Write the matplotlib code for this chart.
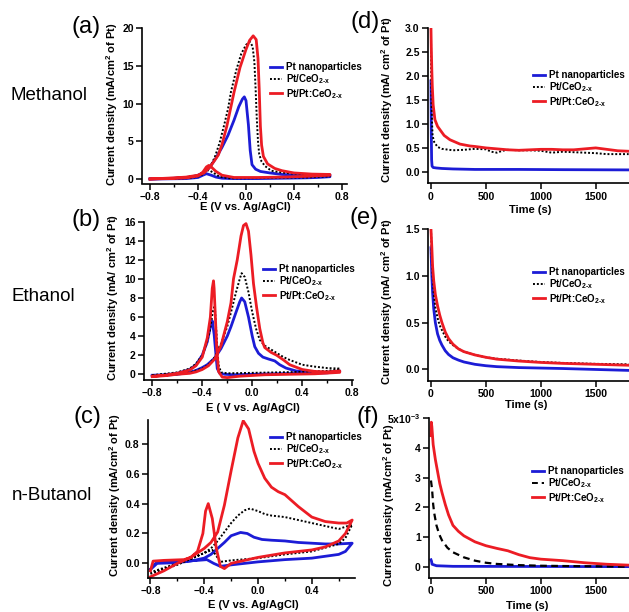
import numpy as np
import matplotlib
matplotlib.use('Agg')
import matplotlib.pyplot as plt
from matplotlib.ticker import MultipleLocator
from matplotlib.lines import Line2D

plt.rcParams['font.family'] = ['Liberation Sans', 'DejaVu Sans']
plt.rcParams['mathtext.fontset'] = 'custom'
plt.rcParams['mathtext.rm'] = 'Liberation Sans:bold'
plt.rcParams['mathtext.bf'] = 'Liberation Sans:bold'
plt.rcParams['mathtext.it'] = 'Liberation Sans:bold'
plt.rcParams['mathtext.default'] = 'rm'

BLUE = '#1c1cd6'
RED = '#ec1c24'
labels = ['Pt nanoparticles', r'Pt/CeO$_{2\text{-}x}$', r'Pt/Pt:CeO$_{2\text{-}x}$']

# ---- (a) methanol CV  (forward scan then reverse scan)
a_pt_E = [-0.8, -0.7, -0.6, -0.5, -0.45, -0.4, -0.35, -0.32, -0.3, -0.25,
          -0.2, -0.15, -0.1, -0.06, -0.03, -0.014, 0.0, 0.02, 0.035, 0.05,
          0.08, 0.12, 0.2, 0.3, 0.45, 0.6, 0.7,
          0.7, 0.6, 0.5, 0.3, 0.1, -0.1, -0.2, -0.25, -0.29, -0.33,
          -0.36, -0.4, -0.5, -0.65, -0.8]
a_pt_j = [0.0, 0.05, 0.1, 0.2, 0.3, 0.5, 0.9, 1.3, 1.6, 2.8,
          4.2, 5.8, 7.8, 9.6, 10.6, 10.9, 10.4, 7.2, 3.8, 1.9,
          1.3, 1.0, 0.8, 0.6, 0.5, 0.5, 0.55,
          0.3, 0.2, 0.15, 0.1, 0.05, 0.05, 0.1, 0.25, 0.5, 0.7,
          0.5, 0.2, 0.05, 0.02, 0.0]
a_ce_E = [-0.8, -0.6, -0.5, -0.4, -0.35, -0.3, -0.26, -0.22, -0.18, -0.15,
          -0.125, -0.08, -0.04, 0.0, 0.033, 0.055, 0.07, 0.08, 0.09, 0.1,
          0.11, 0.13, 0.16, 0.21, 0.3, 0.4, 0.55, 0.7,
          0.7, 0.5, 0.2, 0.0, -0.15, -0.22, -0.27, -0.31, -0.34, -0.38,
          -0.45, -0.6, -0.8]
a_ce_j = [0.0, 0.1, 0.2, 0.5, 0.9, 1.6, 2.9, 4.8, 7.3, 9.3,
          11.6, 14.5, 16.6, 17.8, 18.2, 17.6, 15.5, 12.0, 8.0, 5.0,
          3.3, 2.3, 1.7, 1.1, 0.85, 0.7, 0.55, 0.5,
          0.35, 0.2, 0.15, 0.1, 0.1, 0.3, 0.8, 1.2, 0.9, 0.4,
          0.15, 0.05, 0.0]
a_ptce_E = [-0.8, -0.6, -0.5, -0.4, -0.35, -0.3, -0.26, -0.23, -0.2, -0.16,
            -0.1, -0.05, 0.0, 0.03, 0.06, 0.085, 0.1, 0.11, 0.12, 0.13,
            0.145, 0.18, 0.24, 0.3, 0.4, 0.55, 0.7,
            0.7, 0.5, 0.3, 0.1, -0.1, -0.2, -0.25, -0.29, -0.31, -0.33,
            -0.36, -0.4, -0.5, -0.65, -0.8]
a_ptce_j = [0.0, 0.15, 0.25, 0.5, 0.8, 1.6, 2.5, 3.2, 4.6, 7.0,
            11.5, 14.8, 17.2, 18.4, 19.0, 18.5, 16.0, 12.0, 7.0, 4.5,
            3.0, 2.0, 1.4, 1.1, 0.8, 0.65, 0.6,
            0.5, 0.35, 0.25, 0.2, 0.2, 0.5, 1.0, 1.6, 1.8, 1.6,
            0.9, 0.4, 0.15, 0.05, 0.0]

# ---- (b) ethanol CV
b_pt_E = [-0.8, -0.7, -0.6, -0.5, -0.45, -0.4, -0.36, -0.3, -0.25, -0.2,
          -0.17, -0.13, -0.1, -0.085, -0.06, -0.03, 0.0, 0.02, 0.05, 0.085,
          0.13, 0.18, 0.22, 0.27, 0.35, 0.5, 0.6, 0.7,
          0.7, 0.6, 0.4, 0.2, 0.0, -0.15, -0.22, -0.26, -0.28, -0.29,
          -0.305, -0.32, -0.335, -0.36, -0.4, -0.45, -0.5, -0.6, -0.7, -0.8]
b_pt_j = [-0.2, -0.1, 0.0, 0.2, 0.4, 0.7, 1.0, 1.7, 2.7, 4.0,
          5.0, 6.5, 7.6, 8.0, 7.6, 6.0, 4.0, 2.9, 2.2, 1.8,
          1.6, 1.4, 1.0, 0.65, 0.35, 0.2, 0.2, 0.35,
          0.3, 0.15, 0.1, 0.05, 0.0, -0.05, 0.0, 0.1, 0.6, 2.0,
          4.2, 5.6, 5.0, 3.4, 2.0, 1.0, 0.5, 0.1, -0.05, -0.1]
b_ce_E = [-0.8, -0.6, -0.5, -0.4, -0.35, -0.3, -0.25, -0.2, -0.17, -0.13,
          -0.1, -0.085, -0.06, -0.03, 0.0, 0.03, 0.06, 0.1, 0.15, 0.2,
          0.25, 0.3, 0.4, 0.5, 0.6, 0.7,
          0.7, 0.6, 0.4, 0.2, 0.0, -0.2, -0.25, -0.27, -0.285, -0.3,
          -0.315, -0.34, -0.37, -0.4, -0.45, -0.5, -0.6, -0.8]
b_ce_j = [-0.1, 0.0, 0.2, 0.6, 1.0, 1.8, 3.2, 5.0, 6.5, 8.6,
          10.0, 10.6, 10.2, 8.6, 6.5, 4.8, 3.6, 3.0, 2.6, 2.2,
          1.8, 1.5, 1.0, 0.8, 0.65, 0.6,
          0.5, 0.35, 0.25, 0.2, 0.15, 0.1, 0.2, 1.0, 4.0, 7.2,
          6.6, 4.5, 3.0, 2.0, 1.1, 0.6, 0.2, -0.1]
b_ptce_E = [-0.8, -0.7, -0.6, -0.5, -0.45, -0.4, -0.35, -0.3, -0.25, -0.2,
            -0.17, -0.15, -0.12, -0.09, -0.07, -0.05, -0.03, -0.01, 0.01, 0.035,
            0.06, 0.085, 0.1, 0.15, 0.195, 0.25, 0.3, 0.4, 0.5, 0.6, 0.7,
            0.7, 0.5, 0.3, 0.1, -0.1, -0.2, -0.24, -0.27, -0.285, -0.295,
            -0.305, -0.31, -0.32, -0.335, -0.36, -0.4, -0.45, -0.5, -0.6, -0.7, -0.8]
b_ptce_j = [-0.25, -0.15, 0.0, 0.1, 0.25, 0.5, 0.9, 1.6, 3.0, 5.5,
            7.5, 10.0, 12.0, 14.5, 15.6, 15.8, 15.0, 12.5, 9.5, 7.0,
            4.8, 3.3, 2.8, 2.3, 2.0, 1.5, 1.0, 0.5, 0.3, 0.25, 0.35,
            0.2, 0.05, 0.0, -0.05, -0.2, -0.35, -0.3, 0.3, 3.0, 6.0,
            9.0, 9.8, 9.0, 6.0, 3.8, 1.8, 0.9, 0.45, 0.1, -0.1, -0.2]

# ---- (c) n-butanol CV
c_pt_E = [-0.8, -0.75, -0.6, -0.5, -0.4, -0.35, -0.3, -0.25, -0.2, -0.13,
          -0.08, -0.03, 0.03, 0.1, 0.2, 0.3, 0.4, 0.5, 0.6, 0.7,
          0.7, 0.65, 0.6, 0.4, 0.2, 0.0, -0.2, -0.28, -0.33, -0.38,
          -0.45, -0.6, -0.75, -0.8]
c_pt_j = [-0.04, 0.0, 0.005, 0.015, 0.035, 0.06, 0.1, 0.14, 0.185, 0.207,
          0.2, 0.175, 0.16, 0.155, 0.15, 0.14, 0.135, 0.13, 0.13, 0.135,
          0.135, 0.08, 0.06, 0.035, 0.025, 0.01, -0.01, -0.02, 0.0, 0.025,
          0.02, 0.015, 0.01, -0.04]
c_ce_E = [-0.8, -0.6, -0.5, -0.4, -0.35, -0.3, -0.25, -0.2, -0.15, -0.1,
          -0.06, 0.0, 0.05, 0.1, 0.2, 0.3, 0.4, 0.5, 0.6, 0.7,
          0.7, 0.65, 0.6, 0.4, 0.2, 0.0, -0.2, -0.28, -0.31, -0.34,
          -0.4, -0.5, -0.6, -0.8]
c_ce_j = [-0.07, -0.01, 0.03, 0.07, 0.1, 0.15, 0.21, 0.27, 0.32, 0.355,
          0.367, 0.35, 0.33, 0.32, 0.31, 0.29, 0.27, 0.25, 0.23, 0.26,
          0.26, 0.17, 0.13, 0.08, 0.06, 0.035, 0.02, 0.01, 0.05, 0.09,
          0.07, 0.03, 0.0, -0.06]
c_ptce_E = [-0.8, -0.7, -0.6, -0.5, -0.45, -0.4, -0.35, -0.3, -0.25, -0.2,
            -0.15, -0.11, -0.07, -0.03, 0.0, 0.05, 0.1, 0.15, 0.2, 0.25,
            0.3, 0.4, 0.5, 0.6, 0.66, 0.7,
            0.7, 0.65, 0.6, 0.5, 0.4, 0.2, 0.0, -0.1, -0.2, -0.25,
            -0.28, -0.31, -0.34, -0.37, -0.39, -0.41, -0.45, -0.5, -0.55, -0.7,
            -0.78, -0.8]
c_ptce_j = [-0.09, -0.05, 0.0, 0.04, 0.07, 0.1, 0.14, 0.21, 0.39, 0.62,
            0.84, 0.955, 0.9, 0.75, 0.67, 0.57, 0.51, 0.48, 0.46, 0.42,
            0.38, 0.31, 0.28, 0.27, 0.27, 0.29,
            0.29, 0.2, 0.15, 0.11, 0.09, 0.07, 0.04, 0.02, 0.0, -0.035,
            -0.02, 0.1, 0.3, 0.4, 0.35, 0.2, 0.08, 0.04, 0.025, 0.02,
            0.015, -0.05]

# ---- (d) methanol chronoamperometry
d_pt_t = [0, 3, 6, 10, 20, 50, 100, 200, 400, 800, 1200, 1800]
d_pt_j = [1.9, 0.8, 0.25, 0.12, 0.09, 0.08, 0.07, 0.06, 0.05, 0.05, 0.045, 0.04]
d_ce_t = [0, 2, 5, 10, 15, 30, 60, 100, 200, 300,
          400, 500, 550, 600, 650, 700, 800, 900, 1000, 1100,
          1200, 1300, 1400, 1500, 1600, 1800]
d_ce_j = [3.0, 2.2, 1.5, 1.0, 0.75, 0.62, 0.52, 0.48, 0.45, 0.46,
          0.48, 0.47, 0.42, 0.40, 0.44, 0.46, 0.45, 0.45, 0.44, 0.40,
          0.42, 0.41, 0.40, 0.39, 0.37, 0.37]
d_ptce_t = [0, 3, 8, 12, 20, 36, 60, 82, 120, 173,
            264, 355, 400, 500, 600, 700, 800, 900, 1000, 1100,
            1200, 1300, 1400, 1500, 1600, 1700, 1800]
d_ptce_j = [3.0, 2.6, 2.1, 1.8, 1.4, 1.09, 0.95, 0.88, 0.76, 0.67,
            0.58, 0.54, 0.53, 0.50, 0.48, 0.46, 0.45, 0.46, 0.47, 0.47,
            0.46, 0.46, 0.48, 0.50, 0.47, 0.44, 0.43]

# ---- (e) ethanol chronoamperometry
e_t = [0, 8, 15, 25, 40, 60, 80, 100, 130, 160, 200,
       250, 300, 400, 500, 600, 800, 1000, 1200, 1500, 1800]
e_pt_j = [1.3, 1.0, 0.82, 0.65, 0.5, 0.38, 0.31, 0.26, 0.2, 0.16, 0.125,
          0.1, 0.08, 0.055, 0.04, 0.03, 0.02, 0.015, 0.01, 0.0, -0.01]
e_ce_j = [1.5, 1.2, 1.0, 0.82, 0.66, 0.55, 0.47, 0.42, 0.35, 0.3, 0.26,
          0.22, 0.19, 0.155, 0.13, 0.115, 0.095, 0.08, 0.07, 0.06, 0.055]
e_ptce_j = [1.5, 1.3, 1.1, 0.95, 0.8, 0.68, 0.58, 0.5, 0.4, 0.33, 0.27,
            0.22, 0.19, 0.155, 0.13, 0.11, 0.09, 0.075, 0.065, 0.055, 0.045]

# ---- (f) n-butanol chronoamperometry (x1e-3)
f_pt_t = [0, 5, 10, 50, 200, 1800]
f_pt_j = [0.25, 0.2, 0.1, 0.05, 0.03, 0.02]
f_ce_t = [0, 10, 20, 30, 50, 75, 100, 150, 200, 300,
          400, 500, 600, 800, 1000, 1200, 1500, 1800]
f_ce_j = [2.9, 2.6, 2.1, 1.8, 1.4, 1.1, 0.9, 0.65, 0.5, 0.33,
          0.22, 0.15, 0.11, 0.07, 0.05, 0.04, 0.03, 0.02]
f_ptce_t = [0, 3, 8, 20, 40, 60, 80, 100, 130, 160,
            200, 250, 300, 400, 500, 600, 700, 800, 900, 1000,
            1200, 1400, 1600, 1800]
f_ptce_j = [4.4, 4.85, 4.7, 4.1, 3.6, 3.2, 2.8, 2.5, 2.1, 1.75,
            1.4, 1.2, 1.05, 0.85, 0.72, 0.63, 0.55, 0.42, 0.32, 0.27,
            0.22, 0.15, 0.1, 0.07]

W, H = 629, 612
LW = 2.0
fig = plt.figure(figsize=(W / 100, H / 100), dpi=100)


def px_axes(l, r, t, b):
    ax = fig.add_axes([l / W, 1 - b / H, (r - l) / W, (b - t) / H])
    ax.spines['top'].set_visible(False)
    ax.spines['right'].set_visible(False)
    for s in ['left', 'bottom']:
        ax.spines[s].set_linewidth(1.2)
    ax.tick_params(direction='out', length=4, width=1.1, labelsize=7.5, pad=2)
    ax.tick_params(which='minor', direction='out', length=2.5, width=1)
    return ax


def bold_ticks(ax):
    for lab in ax.get_xticklabels() + ax.get_yticklabels():
        lab.set_fontweight('bold')


def fig_text(x, y, s, **kw):
    fig.text(x / W, 1 - y / H, s, ha='center', va='center', **kw)


def add_legend(ax, x, y, dashed=False):
    ls = (0, (3, 2)) if dashed else (0, (1, 1))
    hs = [Line2D([], [], color=BLUE, lw=LW),
          Line2D([], [], color='k', lw=1.4, ls=ls),
          Line2D([], [], color=RED, lw=LW)]
    leg = ax.legend(hs, labels, loc='upper left', bbox_to_anchor=(x / W, 1 - y / H),
                    bbox_transform=fig.transFigure, frameon=False, borderpad=0,
                    borderaxespad=0, handlelength=1.25, handletextpad=0.35,
                    labelspacing=0.05, prop={'weight': 'bold', 'size': 7})
    return leg


def cv_lines(ax, E1, j1, E2, j2, E3, j3):
    ax.plot(E1, j1, color=BLUE, lw=LW)
    ax.plot(E2, j2, color='k', lw=1.4, ls=(0, (1, 1)))
    ax.plot(E3, j3, color=RED, lw=LW)


ylab_cm = 'Current density (mA/cm$^2$ of Pt)'
ylab_sp = 'Current density (mA/ cm$^2$ of Pt)'
LAB = 8

# (a)
ax = px_axes(142, 347, 28.3, 183.5)
cv_lines(ax, a_pt_E, a_pt_j, a_ce_E, a_ce_j, a_ptce_E, a_ptce_j)
ax.set_xlim(-0.867, 0.842)
ax.set_ylim(-0.6, 20.0)
ax.xaxis.set_major_locator(MultipleLocator(0.4))
ax.xaxis.set_minor_locator(MultipleLocator(0.2))
ax.yaxis.set_major_locator(MultipleLocator(5))
bold_ticks(ax)
add_legend(ax, 270, 62)
fig_text(112, 104, ylab_cm, rotation=90, fontsize=LAB, fontweight='bold')
fig_text(245, 207, 'E (V vs. Ag/AgCl)', fontsize=LAB, fontweight='bold')

# (b)
ax = px_axes(144, 353, 221.7, 380)
cv_lines(ax, b_pt_E, b_pt_j, b_ce_E, b_ce_j, b_ptce_E, b_ptce_j)
ax.set_xlim(-0.866, 0.806)
ax.set_ylim(-0.6, 16.0)
ax.xaxis.set_major_locator(MultipleLocator(0.4))
ax.xaxis.set_minor_locator(MultipleLocator(0.2))
ax.yaxis.set_major_locator(MultipleLocator(2))
bold_ticks(ax)
add_legend(ax, 263, 264)
fig_text(113, 298, ylab_sp, rotation=90, fontsize=LAB, fontweight='bold')
fig_text(253, 408, 'E ( V vs. Ag/AgCl)', fontsize=LAB, fontweight='bold')

# (c)
ax = px_axes(148, 355, 420, 578)
cv_lines(ax, c_pt_E, c_pt_j, c_ce_E, c_ce_j, c_ptce_E, c_ptce_j)
ax.set_xlim(-0.818, 0.721)
ax.set_ylim(-0.098, 0.96)
ax.xaxis.set_major_locator(MultipleLocator(0.4))
ax.xaxis.set_minor_locator(MultipleLocator(0.2))
ax.yaxis.set_major_locator(MultipleLocator(0.2))
bold_ticks(ax)
add_legend(ax, 270, 432)
fig_text(115, 495, ylab_cm, rotation=90, fontsize=LAB, fontweight='bold')
fig_text(253, 605, 'E (V vs. Ag/AgCl)', fontsize=LAB, fontweight='bold')

# (d)
ax = px_axes(428, 629, 28.3, 183.3)
ax.plot(d_pt_t, d_pt_j, color=BLUE, lw=LW)
ax.plot(d_ce_t, d_ce_j, color='k', lw=1.4, ls=(0, (1, 1)))
ax.plot(d_ptce_t, d_ptce_j, color=RED, lw=LW)
ax.set_xlim(-27, 1803)
ax.set_ylim(-0.24, 3.0)
ax.xaxis.set_major_locator(MultipleLocator(500))
ax.yaxis.set_major_locator(MultipleLocator(0.5))
bold_ticks(ax)
add_legend(ax, 533, 70)
fig_text(387, 100, ylab_sp, rotation=90, fontsize=LAB, fontweight='bold')
fig_text(530, 210, 'Time (s)', fontsize=LAB, fontweight='bold')

# (e)
ax = px_axes(428, 629, 229, 380.7)
ax.plot(e_t, e_pt_j, color=BLUE, lw=LW)
ax.plot(e_t, e_ce_j, color='k', lw=1.4, ls=(0, (1, 1)))
ax.plot(e_t, e_ptce_j, color=RED, lw=LW)
ax.set_xlim(-27, 1803)
ax.set_ylim(-0.12, 1.5)
ax.xaxis.set_major_locator(MultipleLocator(500))
ax.yaxis.set_major_locator(MultipleLocator(0.5))
bold_ticks(ax)
add_legend(ax, 533, 267)
fig_text(387, 302, ylab_sp, rotation=90, fontsize=LAB, fontweight='bold')
fig_text(526, 405, 'Time (s)', fontsize=LAB, fontweight='bold')

# (f)
ax = px_axes(429, 629, 417.7, 577.7)
ax.plot(f_pt_t, f_pt_j, color=BLUE, lw=LW)
ax.plot(f_ce_t, f_ce_j, color='k', lw=1.6, ls=(0, (3, 2)))
ax.plot(f_ptce_t, f_ptce_j, color=RED, lw=LW)
ax.set_xlim(-18, 1803)
ax.set_ylim(-0.35, 5.0)
ax.xaxis.set_major_locator(MultipleLocator(500))
ax.set_yticks([0, 1, 2, 3, 4, 5])
ax.set_yticklabels(['0', '1', '2', '3', '4', r'5x10$^{-3}$'])
bold_ticks(ax)
add_legend(ax, 532, 466, dashed=True)
fig_text(389, 505, ylab_cm, rotation=90, fontsize=LAB, fontweight='bold')
fig_text(527, 606, 'Time (s)', fontsize=LAB, fontweight='bold')

# panel letters and row names
for s, x, y in [('(a)', 86, 27), ('(b)', 86, 220), ('(c)', 87, 417),
                ('(d)', 365, 22), ('(e)', 364, 218), ('(f)', 368, 417)]:
    fig_text(x, y, s, fontsize=17)
for s, x, y in [('Methanol', 49, 96), ('Ethanol', 43, 296), ('n-Butanol', 52, 496)]:
    fig_text(x, y, s, fontsize=13.5)

fig.savefig('out.png', dpi=100)
